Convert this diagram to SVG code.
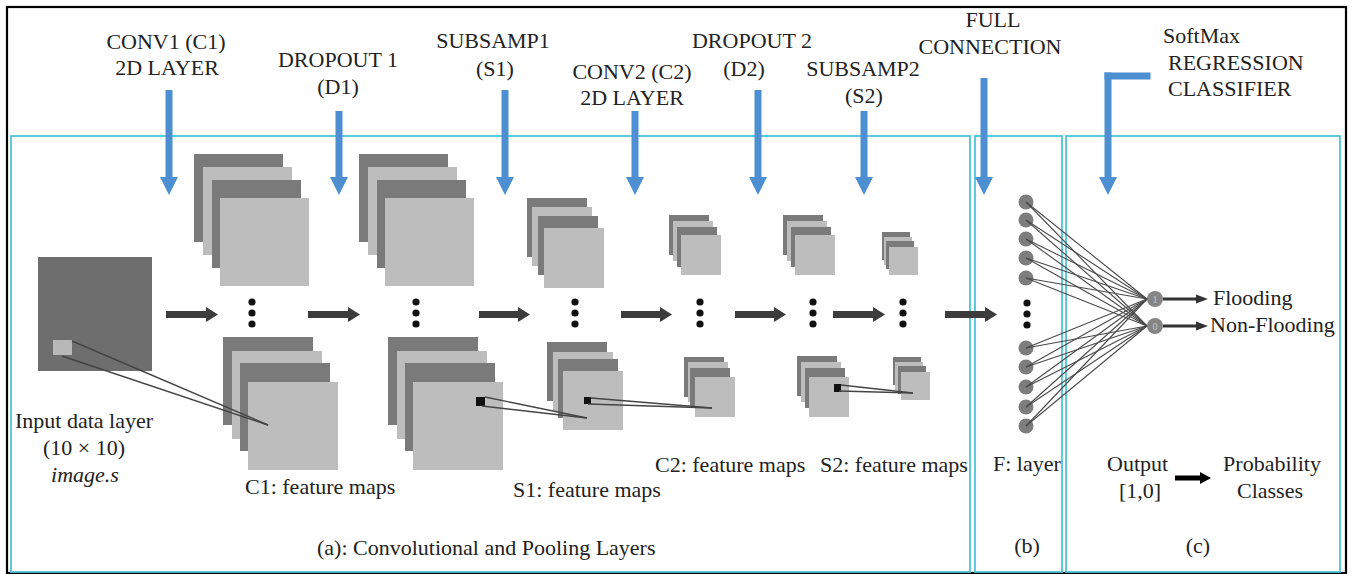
<svg xmlns="http://www.w3.org/2000/svg" width="1353" height="574" viewBox="0 0 1353 574">
<defs>
<style>
.t{font-size:22px;fill:#222}
.c{text-anchor:middle}
.pan{fill:none;stroke:#4fc3d8;stroke-width:1.8}
.dk{fill:#7a7a7a}
.lt{fill:#bdbdbd}
.blue{fill:#4d8fd1}
.ga{fill:#3c3c3c}
.dot{fill:#111}
.ln{stroke:#444;stroke-width:1.4;fill:none}
.ed{stroke:#4a4a4a;stroke-width:1.1}
.nd{fill:#7d7d7d}
</style>
</defs>
<rect x="0" y="0" width="1353" height="574" fill="#fff"/>
<rect x="7" y="7" width="1339" height="566" fill="none" stroke="#000" stroke-width="2.2"/>

<g id="panels">
<rect class="pan" x="11" y="136" width="959" height="436"/>
<rect class="pan" x="975" y="136" width="87" height="436"/>
<rect class="pan" x="1066" y="136" width="274" height="436"/>
</g>

<g font-family="Liberation Serif, DejaVu Serif, serif">
<g id="labels-top">
<text class="t c" x="166" y="49">CONV1 (C1)</text>
<text class="t c" x="167" y="75">2D LAYER</text>
<text class="t c" x="338" y="67">DROPOUT 1</text>
<text class="t c" x="338" y="94">(D1)</text>
<text class="t c" x="493" y="48">SUBSAMP1</text>
<text class="t c" x="495" y="76">(S1)</text>
<text class="t c" x="632" y="79">CONV2 (C2)</text>
<text class="t c" x="632" y="105">2D LAYER</text>
<text class="t c" x="752" y="48">DROPOUT 2</text>
<text class="t c" x="744" y="76">(D2)</text>
<text class="t c" x="863" y="76">SUBSAMP2</text>
<text class="t c" x="864" y="103">(S2)</text>
<text class="t c" x="993" y="27">FULL</text>
<text class="t c" x="990" y="54">CONNECTION</text>
<text class="t" x="1163" y="43">SoftMax</text>
<text class="t" x="1168" y="70">REGRESSION</text>
<text class="t" x="1168" y="96">CLASSIFIER</text>
</g>

<g id="input">
<rect x="38" y="257" width="114" height="114" fill="#6e6e6e"/>
<rect x="53" y="340" width="19" height="15" fill="#b8b8b8"/>
<text class="t c" x="84" y="428">Input data layer</text>
<text class="t c" x="84" y="455">(10 × 10)</text>
<text class="t c" x="85" y="482" font-style="italic">image.s</text>
</g>

<g id="c1">
<rect class="dk" x="194" y="154" width="89" height="88"/>
<rect class="lt" x="203" y="167" width="89" height="88"/>
<rect class="dk" x="212" y="180" width="89" height="88"/>
<rect class="lt" x="220" y="198" width="89" height="88"/>
<rect class="dk" x="223" y="337" width="90" height="88"/>
<rect class="lt" x="232" y="351" width="90" height="88"/>
<rect class="dk" x="240" y="363" width="90" height="88"/>
<rect class="lt" x="248" y="382" width="90" height="88"/>
<text class="t" x="245" y="494">C1: feature maps</text>
</g>

<g id="d1">
<rect class="dk" x="359" y="154" width="89" height="88"/>
<rect class="lt" x="368" y="167" width="89" height="88"/>
<rect class="dk" x="377" y="180" width="89" height="88"/>
<rect class="lt" x="385" y="198" width="89" height="88"/>
<rect class="dk" x="388" y="337" width="90" height="88"/>
<rect class="lt" x="397" y="351" width="90" height="88"/>
<rect class="dk" x="405" y="363" width="90" height="88"/>
<rect class="lt" x="413" y="382" width="90" height="88"/>
<rect x="476" y="397" width="9" height="9" fill="#111"/>
</g>

<g id="s1">
<rect class="dk" x="527" y="198" width="60" height="59"/>
<rect class="lt" x="532" y="207" width="60" height="59"/>
<rect class="dk" x="538" y="216" width="60" height="59"/>
<rect class="lt" x="544" y="228" width="60" height="60"/>
<rect class="dk" x="547" y="342" width="60" height="59"/>
<rect class="lt" x="553" y="352" width="60" height="59"/>
<rect class="dk" x="558" y="359" width="60" height="59"/>
<rect class="lt" x="563" y="371" width="60" height="59"/>
<rect x="584" y="397" width="7" height="7" fill="#111"/>
<text class="t" x="513" y="497">S1: feature maps</text>
</g>

<g id="c2">
<rect class="dk" x="669" y="215" width="40" height="40"/>
<rect class="lt" x="673" y="221" width="40" height="40"/>
<rect class="dk" x="677" y="227" width="40" height="40"/>
<rect class="lt" x="681" y="235" width="40" height="40"/>
<rect class="dk" x="684" y="357" width="40" height="40"/>
<rect class="lt" x="688" y="362" width="40" height="40"/>
<rect class="dk" x="690" y="368" width="40" height="40"/>
<rect class="lt" x="695" y="377" width="40" height="40"/>
<text class="t" x="655" y="472">C2: feature maps</text>
</g>

<g id="d2">
<rect class="dk" x="783" y="215" width="40" height="40"/>
<rect class="lt" x="787" y="221" width="40" height="40"/>
<rect class="dk" x="791" y="227" width="40" height="40"/>
<rect class="lt" x="795" y="235" width="40" height="40"/>
<rect class="dk" x="797" y="356" width="40" height="40"/>
<rect class="lt" x="801" y="362" width="40" height="40"/>
<rect class="dk" x="805" y="368" width="40" height="40"/>
<rect class="lt" x="809" y="377" width="40" height="40"/>
<rect x="834" y="384" width="7" height="8" fill="#111"/>
</g>

<g id="s2">
<rect class="dk" x="882" y="232" width="28" height="28"/>
<rect class="lt" x="884" y="237" width="28" height="28"/>
<rect class="dk" x="886" y="241" width="28" height="28"/>
<rect class="lt" x="889" y="247" width="29" height="28"/>
<rect class="dk" x="893" y="357" width="28" height="28"/>
<rect class="lt" x="895" y="362" width="28" height="28"/>
<rect class="dk" x="898" y="366" width="28" height="28"/>
<rect class="lt" x="901" y="372" width="29" height="28"/>
<text class="t" x="820" y="472">S2: feature maps</text>
</g>

<g id="f-layer">
<circle class="nd" cx="1026" cy="202" r="7.5"/>
<circle class="nd" cx="1026" cy="220" r="7.5"/>
<circle class="nd" cx="1026" cy="239" r="7.5"/>
<circle class="nd" cx="1026" cy="258" r="7.5"/>
<circle class="nd" cx="1026" cy="278" r="7.5"/>
<circle class="nd" cx="1026" cy="348" r="7.5"/>
<circle class="nd" cx="1026" cy="367" r="7.5"/>
<circle class="nd" cx="1026" cy="387" r="7.5"/>
<circle class="nd" cx="1026" cy="407" r="7.5"/>
<circle class="nd" cx="1026" cy="426" r="7.5"/>
<text class="t" x="993" y="471">F: layer</text>
<text class="t c" x="1027" y="553">(b)</text>
</g>

<g id="output">
<circle cx="1155" cy="299" r="8" fill="#858585"/>
<circle cx="1155" cy="326" r="8" fill="#858585"/>
<text x="1155" y="303" text-anchor="middle" font-size="10" fill="#c4c4c4">1</text>
<text x="1155" y="330" text-anchor="middle" font-size="10" fill="#c4c4c4">0</text>
<text class="t" x="1213" y="305">Flooding</text>
<text class="t" x="1210" y="332">Non-Flooding</text>
<text class="t" x="1107" y="471">Output</text>
<text class="t c" x="1140" y="498">[1,0]</text>
<text class="t c" x="1272" y="471">Probability</text>
<text class="t c" x="1270" y="498">Classes</text>
<text class="t c" x="1198" y="553">(c)</text>
</g>

<g id="caption">
<text class="t" x="317" y="555">(a): Convolutional and Pooling Layers</text>
</g>
</g>

<g id="dots">
<circle class="dot" cx="252" cy="302" r="3.6"/><circle class="dot" cx="252" cy="313" r="3.6"/><circle class="dot" cx="252" cy="324" r="3.6"/>
<circle class="dot" cx="416" cy="302" r="3.6"/><circle class="dot" cx="416" cy="313" r="3.6"/><circle class="dot" cx="416" cy="324" r="3.6"/>
<circle class="dot" cx="575" cy="302" r="3.6"/><circle class="dot" cx="575" cy="313" r="3.6"/><circle class="dot" cx="575" cy="324" r="3.6"/>
<circle class="dot" cx="700" cy="302" r="3.6"/><circle class="dot" cx="700" cy="313" r="3.6"/><circle class="dot" cx="700" cy="324" r="3.6"/>
<circle class="dot" cx="813" cy="302" r="3.6"/><circle class="dot" cx="813" cy="313" r="3.6"/><circle class="dot" cx="813" cy="324" r="3.6"/>
<circle class="dot" cx="903" cy="302" r="3.6"/><circle class="dot" cx="903" cy="313" r="3.6"/><circle class="dot" cx="903" cy="324" r="3.6"/>
<circle class="dot" cx="1027" cy="303" r="3.6"/><circle class="dot" cx="1027" cy="314" r="3.6"/><circle class="dot" cx="1027" cy="325" r="3.6"/>
</g>

<g id="connectors">
<line class="ln" x1="72" y1="341" x2="268" y2="425"/>
<line class="ln" x1="62" y1="356" x2="268" y2="425"/>
<line class="ln" x1="485" y1="397" x2="587" y2="418"/>
<line class="ln" x1="482" y1="406" x2="587" y2="418"/>
<line class="ln" x1="591" y1="398" x2="712" y2="408"/>
<line class="ln" x1="588" y1="404" x2="712" y2="408"/>
<line class="ln" x1="841" y1="385" x2="913" y2="393"/>
<line class="ln" x1="839" y1="391" x2="913" y2="393"/>

<g class="ga">
<rect x="166" y="311" width="42" height="7"/><polygon points="206,307 218,314.5 206,322"/>
<rect x="308" y="311" width="42" height="7"/><polygon points="348,307 360,314.5 348,322"/>
<rect x="479" y="311" width="41" height="7"/><polygon points="518,307 530,314.5 518,322"/>
<rect x="621" y="311" width="41" height="7"/><polygon points="660,307 672,314.5 660,322"/>
<rect x="735" y="311" width="41" height="7"/><polygon points="774,307 786,314.5 774,322"/>
<rect x="833" y="311" width="42" height="7"/><polygon points="873,307 885,314.5 873,322"/>
<rect x="945" y="311" width="42" height="7"/><polygon points="985,307 997,314.5 985,322"/>
</g>

<g class="blue">
<rect x="165.5" y="90" width="7" height="88"/><polygon points="160,177 178,177 169,195"/>
<rect x="335.5" y="111" width="7" height="67"/><polygon points="330,177 348,177 339,195"/>
<rect x="501.5" y="90" width="7" height="88"/><polygon points="496,177 514,177 505,195"/>
<rect x="631.5" y="111" width="7" height="67"/><polygon points="626,177 644,177 635,195"/>
<rect x="754.5" y="90" width="7" height="88"/><polygon points="749,177 767,177 758,195"/>
<rect x="860.5" y="111" width="7" height="67"/><polygon points="855,177 873,177 864,195"/>
<rect x="980.5" y="78" width="7" height="100"/><polygon points="975,177 993,177 984,195"/>
<rect x="1104.5" y="72.5" width="46" height="7"/>
<rect x="1104.5" y="72.5" width="7" height="105"/><polygon points="1099,177 1117,177 1108,195"/>
</g>

<g class="ed">
<line x1="1026" y1="202" x2="1147" y2="299"/><line x1="1026" y1="202" x2="1147" y2="326"/>
<line x1="1026" y1="220" x2="1147" y2="299"/><line x1="1026" y1="220" x2="1147" y2="326"/>
<line x1="1026" y1="239" x2="1147" y2="299"/><line x1="1026" y1="239" x2="1147" y2="326"/>
<line x1="1026" y1="258" x2="1147" y2="299"/><line x1="1026" y1="258" x2="1147" y2="326"/>
<line x1="1026" y1="278" x2="1147" y2="299"/><line x1="1026" y1="278" x2="1147" y2="326"/>
<line x1="1026" y1="348" x2="1147" y2="299"/><line x1="1026" y1="348" x2="1147" y2="326"/>
<line x1="1026" y1="367" x2="1147" y2="299"/><line x1="1026" y1="367" x2="1147" y2="326"/>
<line x1="1026" y1="387" x2="1147" y2="299"/><line x1="1026" y1="387" x2="1147" y2="326"/>
<line x1="1026" y1="407" x2="1147" y2="299"/><line x1="1026" y1="407" x2="1147" y2="326"/>
<line x1="1026" y1="426" x2="1147" y2="299"/><line x1="1026" y1="426" x2="1147" y2="326"/>
</g>

<g fill="#333">
<rect x="1163" y="297.5" width="34" height="3"/><polygon points="1196,294.5 1208,299 1196,303.5"/>
<rect x="1163" y="324.5" width="34" height="3"/><polygon points="1196,321.5 1208,326 1196,330.5"/>
</g>
<g fill="#000">
<rect x="1175" y="475.5" width="27" height="5"/><polygon points="1200,472 1211,478 1200,484"/>
</g>
</g>
</svg>
